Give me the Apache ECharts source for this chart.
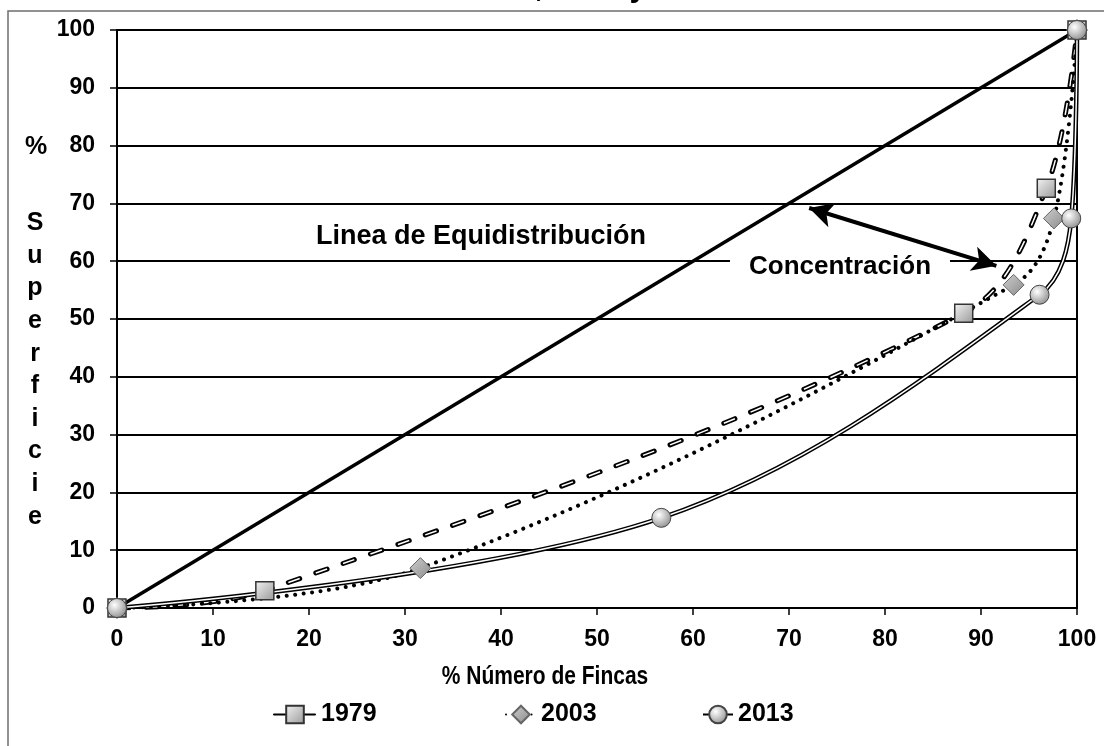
<!DOCTYPE html>
<html>
<head>
<meta charset="utf-8">
<script src="https://cdn.jsdelivr.net/npm/echarts@6/dist/echarts.min.js"></script>
<style>
  html, body { margin: 0; padding: 0; background: #fff; }
  #main { width: 1104px; height: 746px; }
</style>
</head>
<body>
<div id="main"></div>
<script>
// curvas de Lorenz
var xEq = [0, 100];
var yEq = [0, 100];

var x1979 = [0, 15.4, 88.2, 96.8, 100];
var y1979 = [0, 3.0, 51.0, 72.6, 100];

var x2003 = [0, 31.6, 93.4, 97.6, 100];
var y2003 = [0, 6.9, 55.9, 67.4, 100];

var x2013 = [0, 56.7, 96.1, 99.4, 100];
var y2013 = [0, 15.6, 54.2, 67.4, 100];

var xTicks = [0, 10, 20, 30, 40, 50, 60, 70, 80, 90, 100];
var yTicks = [0, 10, 20, 30, 40, 50, 60, 70, 80, 90, 100];

// flecha doble "Concentración" (en unidades de datos)
var arrowFrom = [72.1, 69.2];
var arrowTo = [91.6, 59.2];

var FONT = 'Liberation Sans';

function pares(xs, ys) {
    var out = [];
    for (var i = 0; i < xs.length; i++) {
        out.push([xs[i], ys[i]]);
    }
    return out;
}

var bolaGris = {
    type: 'radial', x: 0.38, y: 0.35, r: 0.75,
    colorStops: [{offset: 0, color: '#ffffff'}, {offset: 1, color: '#858585'}]
};
var cuadroGris = {
    type: 'linear', x: 0, y: 0, x2: 1, y2: 1,
    colorStops: [{offset: 0, color: '#f4f4f4'}, {offset: 1, color: '#989898'}]
};
var romboGris = {
    type: 'linear', x: 0, y: 0, x2: 1, y2: 1,
    colorStops: [{offset: 0, color: '#cfcfcf'}, {offset: 1, color: '#8a8a8a'}]
};

var myChart = echarts.init(document.getElementById('main'));

var leyendaBase = {
    orient: 'horizontal',
    itemHeight: 22,
    selectedMode: false,
    textStyle: {fontFamily: FONT, fontSize: 25, fontWeight: 'bold', color: '#000'}
};

var option = {
    animation: false,
    backgroundColor: '#fff',
    textStyle: {fontFamily: FONT},
    grid: {
        left: 117, right: 27, top: 30, bottom: 138,
        show: true, borderColor: '#000', borderWidth: 2
    },
    legend: [
        Object.assign({}, leyendaBase, {data: ['1979'], left: 268, top: 697, itemWidth: 42}),
        Object.assign({}, leyendaBase, {data: ['2003'], left: 500, top: 697, itemWidth: 30}),
        Object.assign({}, leyendaBase, {data: ['2013'], left: 697, top: 697, itemWidth: 30})
    ],
    xAxis: {
        type: 'value', min: 0, max: 100, interval: 10,
        axisLine: {show: true, lineStyle: {color: '#000', width: 2}},
        axisTick: {show: true, length: 7, lineStyle: {color: '#000', width: 1.5}},
        axisLabel: {
            margin: 20, color: '#000', fontFamily: FONT, fontSize: 23, fontWeight: 'bold',
            formatter: function (v) { return xTicks.indexOf(v) >= 0 ? String(v) : ''; }
        },
        splitLine: {show: false}
    },
    yAxis: {
        type: 'value', min: 0, max: 100, interval: 10,
        axisLine: {show: true, lineStyle: {color: '#000', width: 2}},
        axisTick: {show: true, length: 7, lineStyle: {color: '#000', width: 1.5}},
        axisLabel: {
            margin: 22, color: '#000', fontFamily: FONT, fontSize: 23, fontWeight: 'bold',
            formatter: function (v) { return yTicks.indexOf(v) >= 0 ? String(v) : ''; }
        },
        splitLine: {show: true, lineStyle: {color: '#000', width: 2}}
    },
    series: [
        {
            name: 'Equidistribución',
            type: 'line',
            data: pares(xEq, yEq),
            showSymbol: false,
            lineStyle: {color: '#000', width: 3.5},
            silent: true,
            markLine: {
                silent: true,
                symbol: ['arrow', 'arrow'],
                symbolSize: [19, 24],
                label: {show: false},
                lineStyle: {color: '#000', width: 4, type: 'solid'},
                data: [[{coord: arrowFrom}, {coord: arrowTo}]]
            }
        },
        // 1979: guion con borde (doble trazo)
        {
            name: '1979',
            type: 'line',
            data: pares(x1979, y1979),
            smooth: 0.35,
            showSymbol: false,
            symbol: 'rect', symbolSize: 18,
            itemStyle: {color: cuadroGris, borderColor: '#333', borderWidth: 1.5},
            lineStyle: {color: '#000', width: 5, type: [12, 17], cap: 'round'},
            silent: true
        },
        {
            name: '1979',
            type: 'line',
            data: pares(x1979, y1979),
            smooth: 0.35,
            symbol: 'rect', symbolSize: 18,
            itemStyle: {color: cuadroGris, borderColor: '#333', borderWidth: 1.5},
            lineStyle: {color: '#fff', width: 1.5, type: [12, 17]},
            silent: true
        },
        // 2003: punteado
        {
            name: '2003',
            type: 'line',
            data: pares(x2003, y2003),
            smooth: 0.35,
            symbol: 'diamond', symbolSize: 21,
            itemStyle: {color: romboGris, borderColor: '#666', borderWidth: 1},
            lineStyle: {color: '#000', width: 4, type: [0.01, 8.5], cap: 'round'},
            silent: true
        },
        // 2013: linea doble
        {
            name: '2013',
            type: 'line',
            data: pares(x2013, y2013),
            smooth: 0.35,
            showSymbol: false,
            symbol: 'circle', symbolSize: 19,
            itemStyle: {color: bolaGris, borderColor: '#444', borderWidth: 1},
            lineStyle: {color: '#000', width: 4.5},
            silent: true
        },
        {
            name: '2013',
            type: 'line',
            data: pares(x2013, y2013),
            smooth: 0.35,
            symbol: 'circle', symbolSize: 19,
            itemStyle: {color: bolaGris, borderColor: '#444', borderWidth: 1},
            lineStyle: {color: '#fff', width: 1.5},
            silent: true
        }
    ],
    graphic: [
        // marco exterior (solo se ven borde izq. y sup.)
        {
            type: 'rect', z: 0, silent: true,
            shape: {x: 8, y: 11, width: 1200, height: 800},
            style: {fill: null, stroke: '#6e6e6e', lineWidth: 1.5}
        },
        // titulo, cortado arriba
        {
            type: 'text', left: 'center', top: -28, z: 10,
            style: {text: 'Años 1979, 2003 y 2013', fontFamily: FONT, fontSize: 31, fontWeight: 'bold', fill: '#000'}
        },
        {
            type: 'text', x: 36, y: 147, z: 10,
            style: {text: '%', fontFamily: FONT, fontSize: 25, fontWeight: 'bold', fill: '#000',
                    align: 'center', verticalAlign: 'middle'}
        },
        {
            type: 'text', x: 35, y: 207, z: 10,
            style: {text: 'S\nu\np\ne\nr\nf\ni\nc\ni\ne', fontFamily: FONT, fontSize: 25, fontWeight: 'bold',
                    fill: '#000', align: 'center', verticalAlign: 'top', lineHeight: 32.6}
        },
        {
            type: 'text', x: 545, y: 677, z: 10, scaleX: 0.84, originX: 0, originY: 0,
            style: {text: '% Número de Fincas', fontFamily: FONT, fontSize: 25, fontWeight: 'bold', fill: '#000',
                    align: 'center', verticalAlign: 'middle'}
        },
        {
            type: 'text', x: 481, y: 237, z: 10,
            style: {text: 'Linea de Equidistribución', fontFamily: FONT, fontSize: 27, fontWeight: 'bold', fill: '#000',
                    align: 'center', verticalAlign: 'middle'}
        },
        {
            type: 'text', x: 840, y: 267, z: 1,
            style: {text: 'Concentración', fontFamily: FONT, fontSize: 26, fontWeight: 'bold', fill: '#000',
                    align: 'center', verticalAlign: 'middle',
                    backgroundColor: '#fff', padding: [2, 19]}
        }
    ]
};

myChart.setOption(option);
</script>
</body>
</html>
